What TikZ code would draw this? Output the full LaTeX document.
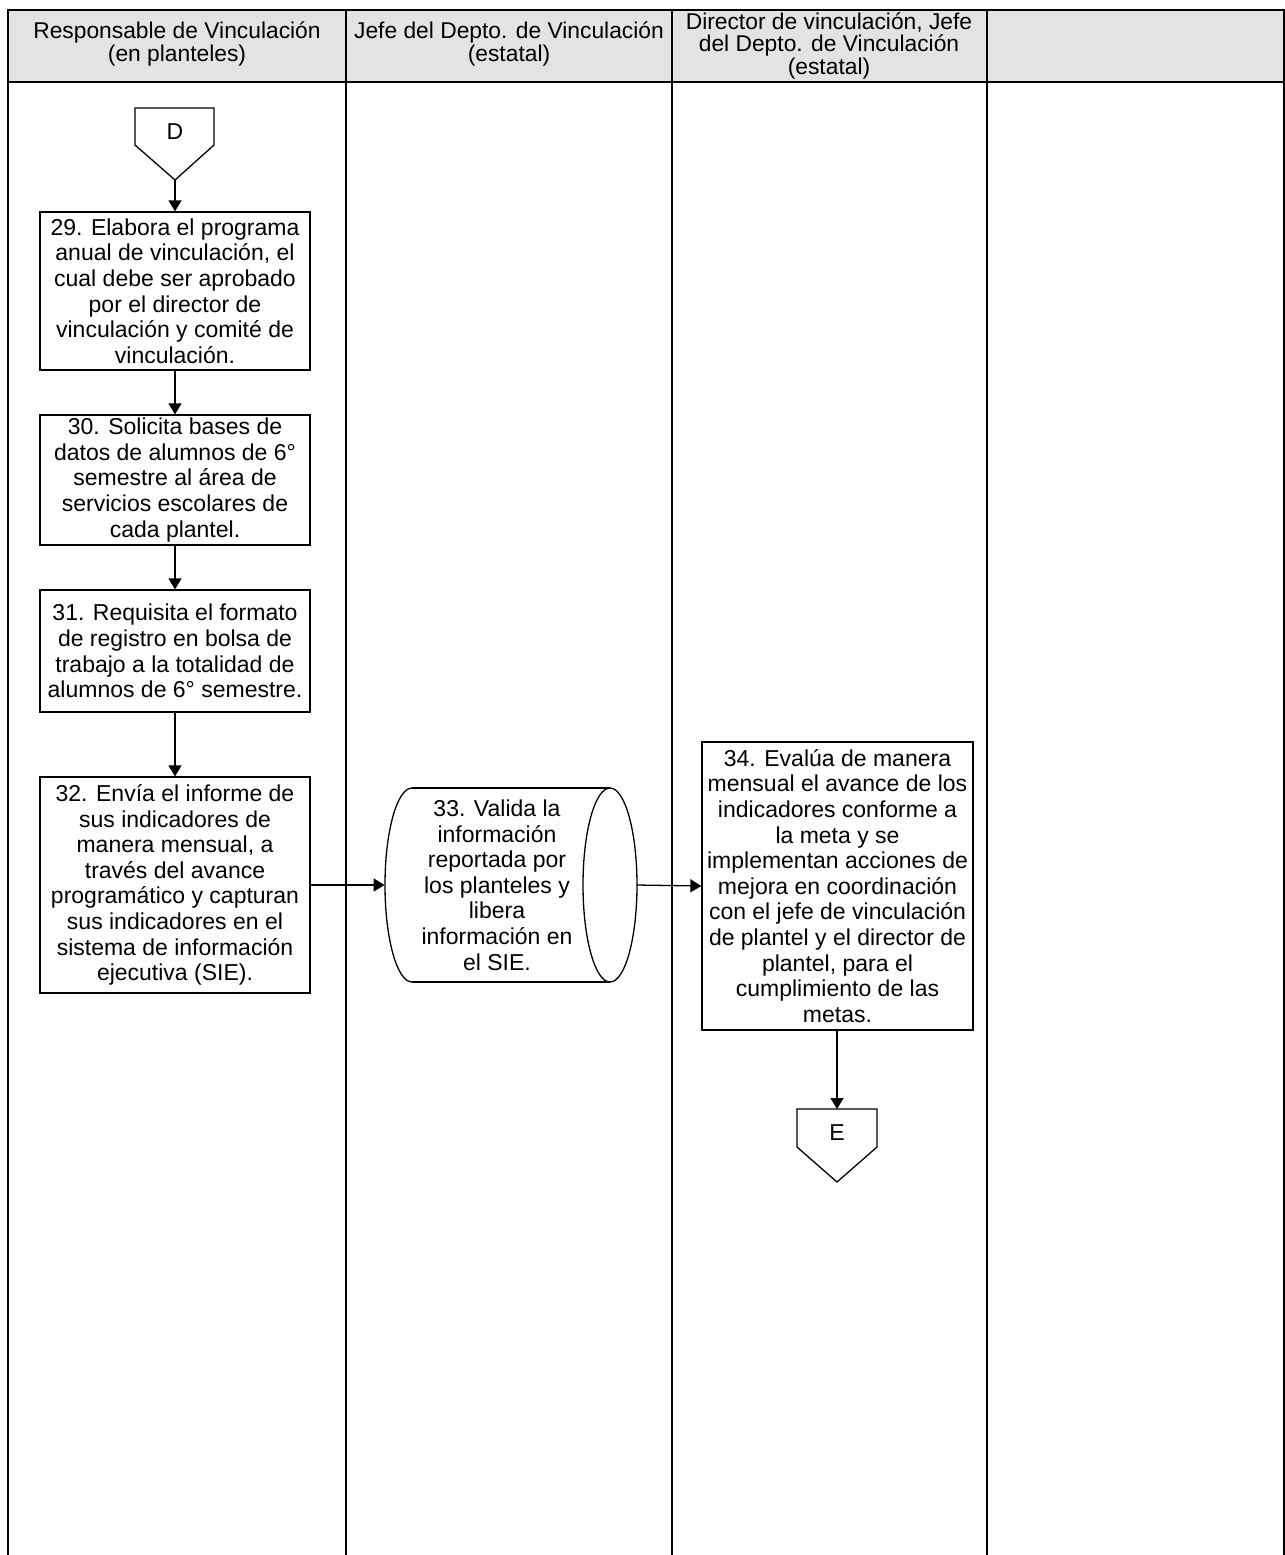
\documentclass[tikz,border=0pt]{standalone}
\usepackage{fontspec}
\setmainfont{Liberation Sans}
\usetikzlibrary{arrows.meta}
\definecolor{headgray}{HTML}{E3E3E3}
\tikzset{
  lane/.style={line width=0.75pt, line cap=rect},
  boxline/.style={line width=0.65pt},
  box/.style={draw, line width=0.65pt, align=center, inner sep=0pt,
    font=\fontsize{11.5pt}{12.8pt}\selectfont},
  boxtext/.style={align=center, inner sep=0pt,
    font=\fontsize{11.5pt}{12.8pt}\selectfont},
  head/.style={align=center, inner sep=0pt,
    font=\fontsize{11.4pt}{11.25pt}\selectfont},
  flow/.style={line width=0.65pt, -{Triangle[length=5.5pt,width=6.5pt]}},
}
\begin{document}
\begin{tikzpicture}[x=0.5pt,y=-0.5pt]
\useasboundingbox (0,0) rectangle (1285,1555);
% header band and lanes
\fill[headgray] (8,10) rectangle (1284,82);
\draw[lane] (8,10) -- (1284,10);
\draw[lane] (8,82) -- (1284,82);
\foreach \xx in {8,346,672,987,1284} \draw[lane] (\xx,10) -- (\xx,1555);
\node[head] (h1) at (177,44) {Responsable de Vinculación\\(en planteles)};
\node[head] (h2) at (509,44) {Jefe del Depto. de Vinculación\\(estatal)};
\node[head] (h3) at (829,45.5) {Director de vinculación, Jefe\\del Depto. de Vinculación\\(estatal)};
% off-page connector D
\draw[boxline] (135,108) -- (214,108) -- (214,145) -- (175,180) -- (135,145) -- cycle;
\node[boxtext] (D) at (175,132) {D};
\coordinate (Dtip) at (175,180);
% boxes lane 1
\node[box, minimum width=135pt, minimum height=79pt] (b29) at (175,291)
 {29. Elabora el programa\\anual de vinculación, el\\cual debe ser aprobado\\por el director de\\vinculación y comité de\\vinculación.};
\node[box, minimum width=135pt, minimum height=65pt] (b30) at (175,480)
 {30. Solicita bases de\\datos de alumnos de 6°\\semestre al área de\\servicios escolares de\\cada plantel.};
\node[box, minimum width=135pt, minimum height=61pt] (b31) at (175,651)
 {31. Requisita el formato\\de registro en bolsa de\\trabajo a la totalidad de\\alumnos de 6° semestre.};
\node[box, minimum width=135pt, minimum height=108pt] (b32) at (175,885)
 {32. Envía el informe de\\sus indicadores de\\manera mensual, a\\través del avance\\programático y capturan\\sus indicadores en el\\sistema de información\\ejecutiva (SIE).};
% box 33 (direct data)
\node[boxtext, minimum width=112pt, minimum height=97pt] (b33) at (497,885)
 {33. Valida la\\información\\reportada por\\los planteles y\\libera\\información en\\el SIE.};
\draw[boxline] (412,788) -- (610,788);
\draw[boxline] (412,982) -- (610,982);
\draw[boxline] (412,788) arc[start angle=90, end angle=270, x radius=13.5pt, y radius=48.5pt];
\draw[boxline] (610,885) ellipse [x radius=13.5pt, y radius=48.5pt];
\coordinate (b33out) at (637,885);
% box 34
\node[box, minimum width=135.5pt, minimum height=144pt] (b34) at (837.5,886)
 {34. Evalúa de manera\\mensual el avance de los\\indicadores conforme a\\la meta y se\\implementan acciones de\\mejora en coordinación\\con el jefe de vinculación\\de plantel y el director de\\plantel, para el\\cumplimiento de las\\metas.};
% off-page connector E
\draw[boxline] (797,1109) -- (877,1109) -- (877,1147) -- (837,1182) -- (797,1147) -- cycle;
\node[boxtext] (E) at (837,1133) {E};
\coordinate (Etop) at (837,1109);
% connectors
\draw[flow] (Dtip) -- (b29.north);
\draw[flow] (b29.south) -- (b30.north);
\draw[flow] (b30.south) -- (b31.north);
\draw[flow] (b31.south) -- (b32.north);
\draw[flow] (b32.east) -- (b33.west);
\draw[flow] (b33out) -- (b34.west);
\draw[flow] (b34.south -| Etop) -- (Etop);
\end{tikzpicture}
\end{document}
